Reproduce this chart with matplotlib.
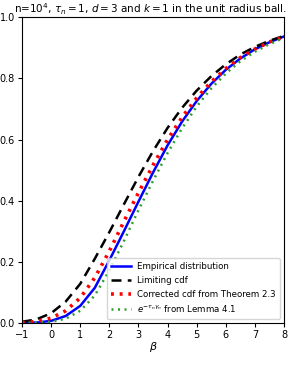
import matplotlib
matplotlib.use("Agg")
from matplotlib import pyplot as plt

beta = [-1, -0.5, 0, 0.5, 1, 1.5, 2, 2.5, 3, 3.5, 4, 4.5, 5, 5.5, 6, 6.5, 7, 7.5, 8]

empirical = [0.0003, 0.0015, 0.007, 0.023, 0.056, 0.115, 0.205, 0.300, 0.397, 0.492,
             0.581, 0.659, 0.726, 0.782, 0.828, 0.865, 0.895, 0.918, 0.937]
limiting = [0.004, 0.012, 0.032, 0.070, 0.128, 0.210, 0.297, 0.388, 0.478, 0.562,
            0.638, 0.704, 0.760, 0.807, 0.846, 0.878, 0.903, 0.923, 0.939]
corrected = [0.001, 0.005, 0.016, 0.040, 0.082, 0.148, 0.235, 0.332, 0.426, 0.516,
             0.600, 0.673, 0.736, 0.789, 0.832, 0.868, 0.896, 0.919, 0.936]
lemma = [0.0002, 0.001, 0.004, 0.014, 0.040, 0.090, 0.172, 0.268, 0.369, 0.465,
         0.556, 0.637, 0.708, 0.767, 0.816, 0.856, 0.887, 0.912, 0.932]

fig = plt.figure(figsize=(2.89, 3.65), dpi=100)
ax = fig.add_axes([0.076, 0.115, 0.907, 0.838])

ax.plot(beta, empirical, color="blue", lw=1.8, label="Empirical distribution")
ax.plot(beta, limiting, color="black", lw=1.8, ls=(0, (4, 2.5)), label="Limiting cdf")
ax.plot(beta, corrected, color="red", lw=2.6, ls=(0, (0.8, 1.6)),
        label="Corrected cdf from Theorem 2.3")
ax.plot(beta, lemma, color="tab:green", lw=1.8, ls=(0, (0.8, 1.8)),
        label=r"$e^{-\tau_n\gamma_n}$ from Lemma 4.1")

ax.set_xlim(-1, 8)
ax.set_ylim(0, 1)
ax.set_xticks(range(-1, 9))
ax.set_yticks([0, 0.2, 0.4, 0.6, 0.8, 1.0])
ax.tick_params(labelsize=7, length=3, pad=2)
ax.set_xlabel(r"$\beta$", fontsize=8, labelpad=0)
ax.set_title(r"n=10$^4$, $\tau_n=1$, $d=3$ and $k=1$ in the unit radius ball.",
             fontsize=7.5, pad=3, x=0.49)
ax.legend(loc="lower right", fontsize=6.2, handlelength=2.3, borderpad=0.5,
          labelspacing=0.55, handletextpad=0.7)

fig.savefig("out.png", dpi=100)
